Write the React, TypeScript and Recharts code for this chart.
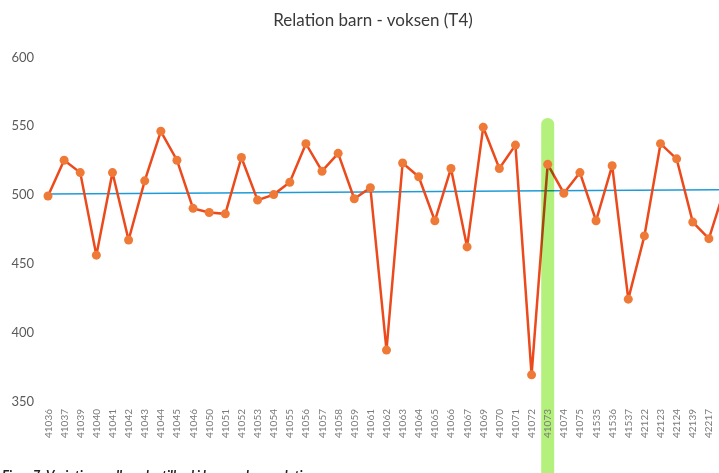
import { LineChart, Line, XAxis, YAxis, ReferenceLine } from 'recharts';

const units = [
  '41036', '41037', '41039', '41040', '41041', '41042', '41043', '41044', '41045', '41046',
  '41050', '41051', '41052', '41053', '41054', '41055', '41056', '41057', '41058', '41059',
  '41061', '41062', '41063', '41064', '41065', '41066', '41067', '41069', '41070', '41071',
  '41072', '41073', '41074', '41075', '41535', '41536', '41537', '42122', '42123', '42124',
  '42139', '42217', '42223',
];
const relation = [
  499, 525, 516, 456, 516, 467, 510, 546, 525, 490,
  487, 486, 527, 496, 500, 509, 537, 517, 530, 497,
  505, 387, 523, 513, 481, 519, 462, 549, 519, 536,
  369, 522, 501, 516, 481, 521, 424, 470, 537, 526,
  480, 468, 505,
];
const yTicks = [350, 400, 450, 500, 550, 600];
const trendEnds = [500.4, 503.6];
const marked = '41073';
const markSpan = [551, 290];

const data = units.map((u, i) => ({ unit: u, value: relation[i] }));

const font = 'Lato, "Open Sans", sans-serif';

const UnitTick = ({ x, y, payload }: any) => (
  <g transform={`translate(${x},${y})`}>
    <text transform="rotate(-90)" x={0} y={0} dy="0.35em" textAnchor="end" fill="#7a7a7a" fontSize={10} fontFamily={font}>
      {payload.value}
    </text>
  </g>
);

export default function App() {
  return (
    <div style={{ position: 'absolute', left: 0, top: 0, width: 719, height: 473, overflow: 'hidden', background: '#fff' }}>
      <div style={{ position: 'absolute', left: 0, top: 9, width: 746, textAlign: 'center', fontFamily: font, fontSize: 17, color: '#3a3a3a' }}>
        Relation barn - voksen (T4)
      </div>
      <LineChart width={740} height={473} data={data} margin={{ top: 57, right: 15, bottom: 0, left: 0 }}>
        <XAxis dataKey="unit" interval={0} height={72} tick={<UnitTick />} tickLine={false} axisLine={false} />
        <YAxis
          domain={[350, 600]}
          ticks={yTicks}
          width={48}
          tickLine={false}
          axisLine={false}
          tickMargin={8}
          tick={{ fill: '#5a5a5a', fontSize: 13, fontFamily: font }}
        />
        <ReferenceLine
          segment={[{ x: units[0], y: trendEnds[0] }, { x: units[units.length - 1], y: trendEnds[1] }]}
          stroke="#1e9bd7"
          strokeWidth={1.6}
          ifOverflow="visible"
        />
        <Line
          dataKey="value"
          stroke="#ec4a1c"
          strokeWidth={2.5}
          dot={{ r: 4.5, fill: '#ef7a38', stroke: 'none' }}
          activeDot={false}
          isAnimationActive={false}
        />
        <ReferenceLine
          segment={[{ x: marked, y: markSpan[0] }, { x: marked, y: markSpan[1] }]}
          stroke="#b4f07c"
          strokeWidth={13}
          strokeLinecap="round"
          ifOverflow="visible"
          style={{ mixBlendMode: 'multiply' }}
        />
      </LineChart>
      <div style={{ position: 'absolute', left: 2, top: 467, fontFamily: font, fontSize: 13, fontWeight: 700, fontStyle: 'italic', color: '#222', whiteSpace: 'nowrap' }}>
        Figur 7: Variation mellem dagtilbud i barn-voksen relation
      </div>
    </div>
  );
}
